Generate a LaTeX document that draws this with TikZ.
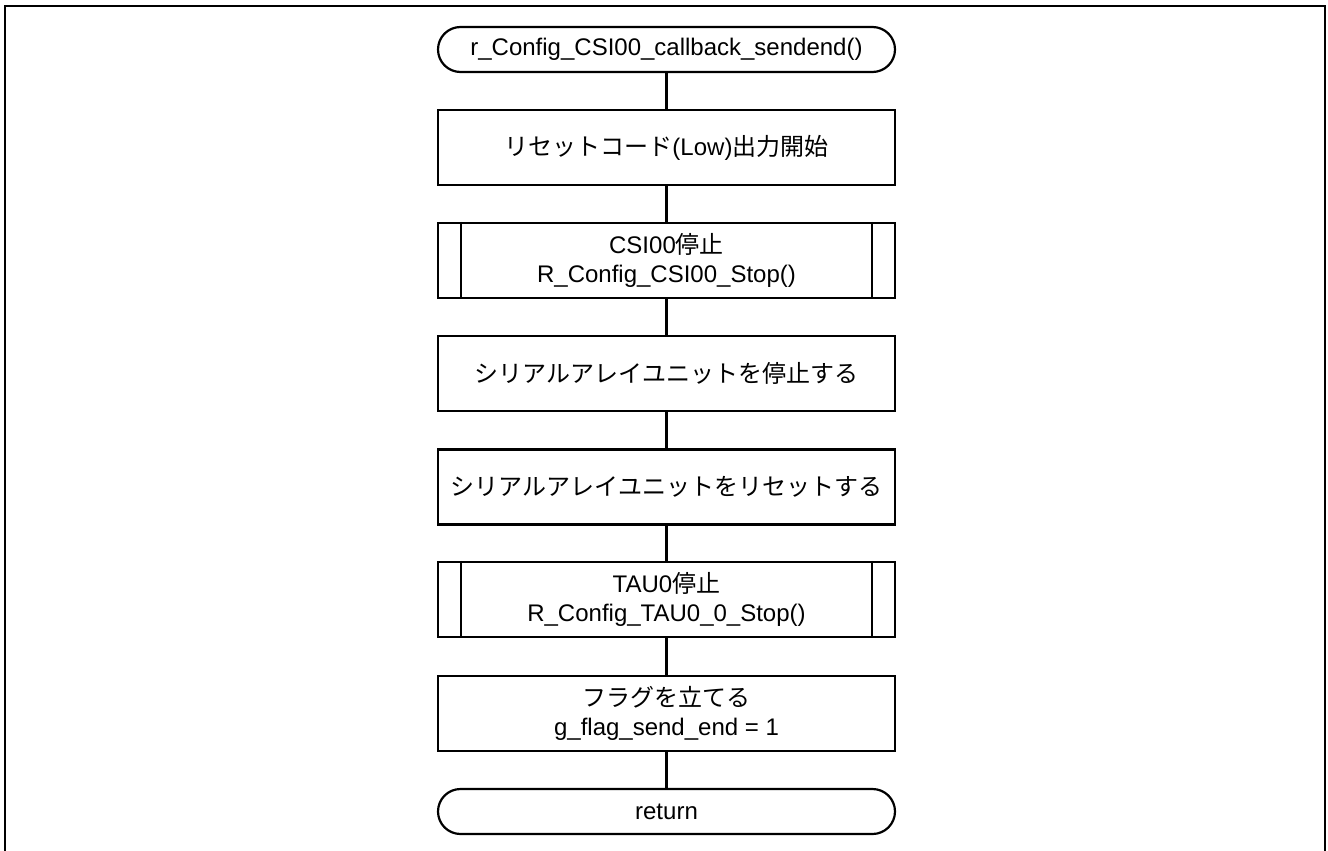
\documentclass[tikz,border=0pt]{standalone}
\usepackage{fontspec}
\setmainfont{Liberation Sans}
\newfontfamily\jp{Noto Sans CJK JP}
\usetikzlibrary{calc}
\tikzset{
  base/.style={draw, line width=2.2pt, minimum width=457pt, minimum height=75pt,
    inner sep=0pt, align=center, font=\fontsize{24}{29}\selectfont},
  proc/.style={base},
  sub/.style={base},
  term/.style={base, minimum height=45pt, rounded corners=22.5pt},
  conn/.style={line width=2.2pt},
  frame/.style={line width=2pt}
}
\begin{document}
\begin{tikzpicture}[x=1pt,y=-1pt]
\useasboundingbox (0,0) rectangle (1328,851);
\coordinate (fbl) at (5,860);
\coordinate (ftl) at (5,6);
\coordinate (ftr) at (1325,6);
\coordinate (fbr) at (1325,860);
\draw[frame] (fbl) -- (ftl) -- (ftr) -- (fbr);

\node[term] (start) at (666.5,49.5) {r\_Config\_CSI00\_callback\_sendend()};
\node[proc] (p1) at (666.5,147.5) {{\jp リセットコード}(Low){\jp 出力開始}};
\node[sub] (s1) at (666.5,260.5) {CSI00{\jp 停止}\\R\_Config\_CSI00\_Stop()};
\node[proc] (p2) at (666.5,373.5) {{\jp シリアルアレイユニットを停止する}};
\node[proc] (p3) at (666.5,487) {{\jp シリアルアレイユニットをリセットする}};
\node[sub] (s2) at (666.5,599.5) {TAU0{\jp 停止}\\R\_Config\_TAU0\_0\_Stop()};
\node[proc] (p4) at (666.5,713.5) {{\jp フラグを立てる}\\g\_flag\_send\_end = 1};
\node[term] (ret) at (666.5,811.5) {return};

\foreach \n in {s1,s2}{
  \draw[conn] ($(\n.north west)+(24,0)$) -- ($(\n.south west)+(24,0)$);
  \draw[conn] ($(\n.north east)+(-24,0)$) -- ($(\n.south east)+(-24,0)$);
}

\draw[conn] (start) -- (p1);
\draw[conn] (p1) -- (s1);
\draw[conn] (s1) -- (p2);
\draw[conn] (p2) -- (p3);
\draw[conn] (p3) -- (s2);
\draw[conn] (s2) -- (p4);
\draw[conn] (p4) -- (ret);
\end{tikzpicture}
\end{document}
